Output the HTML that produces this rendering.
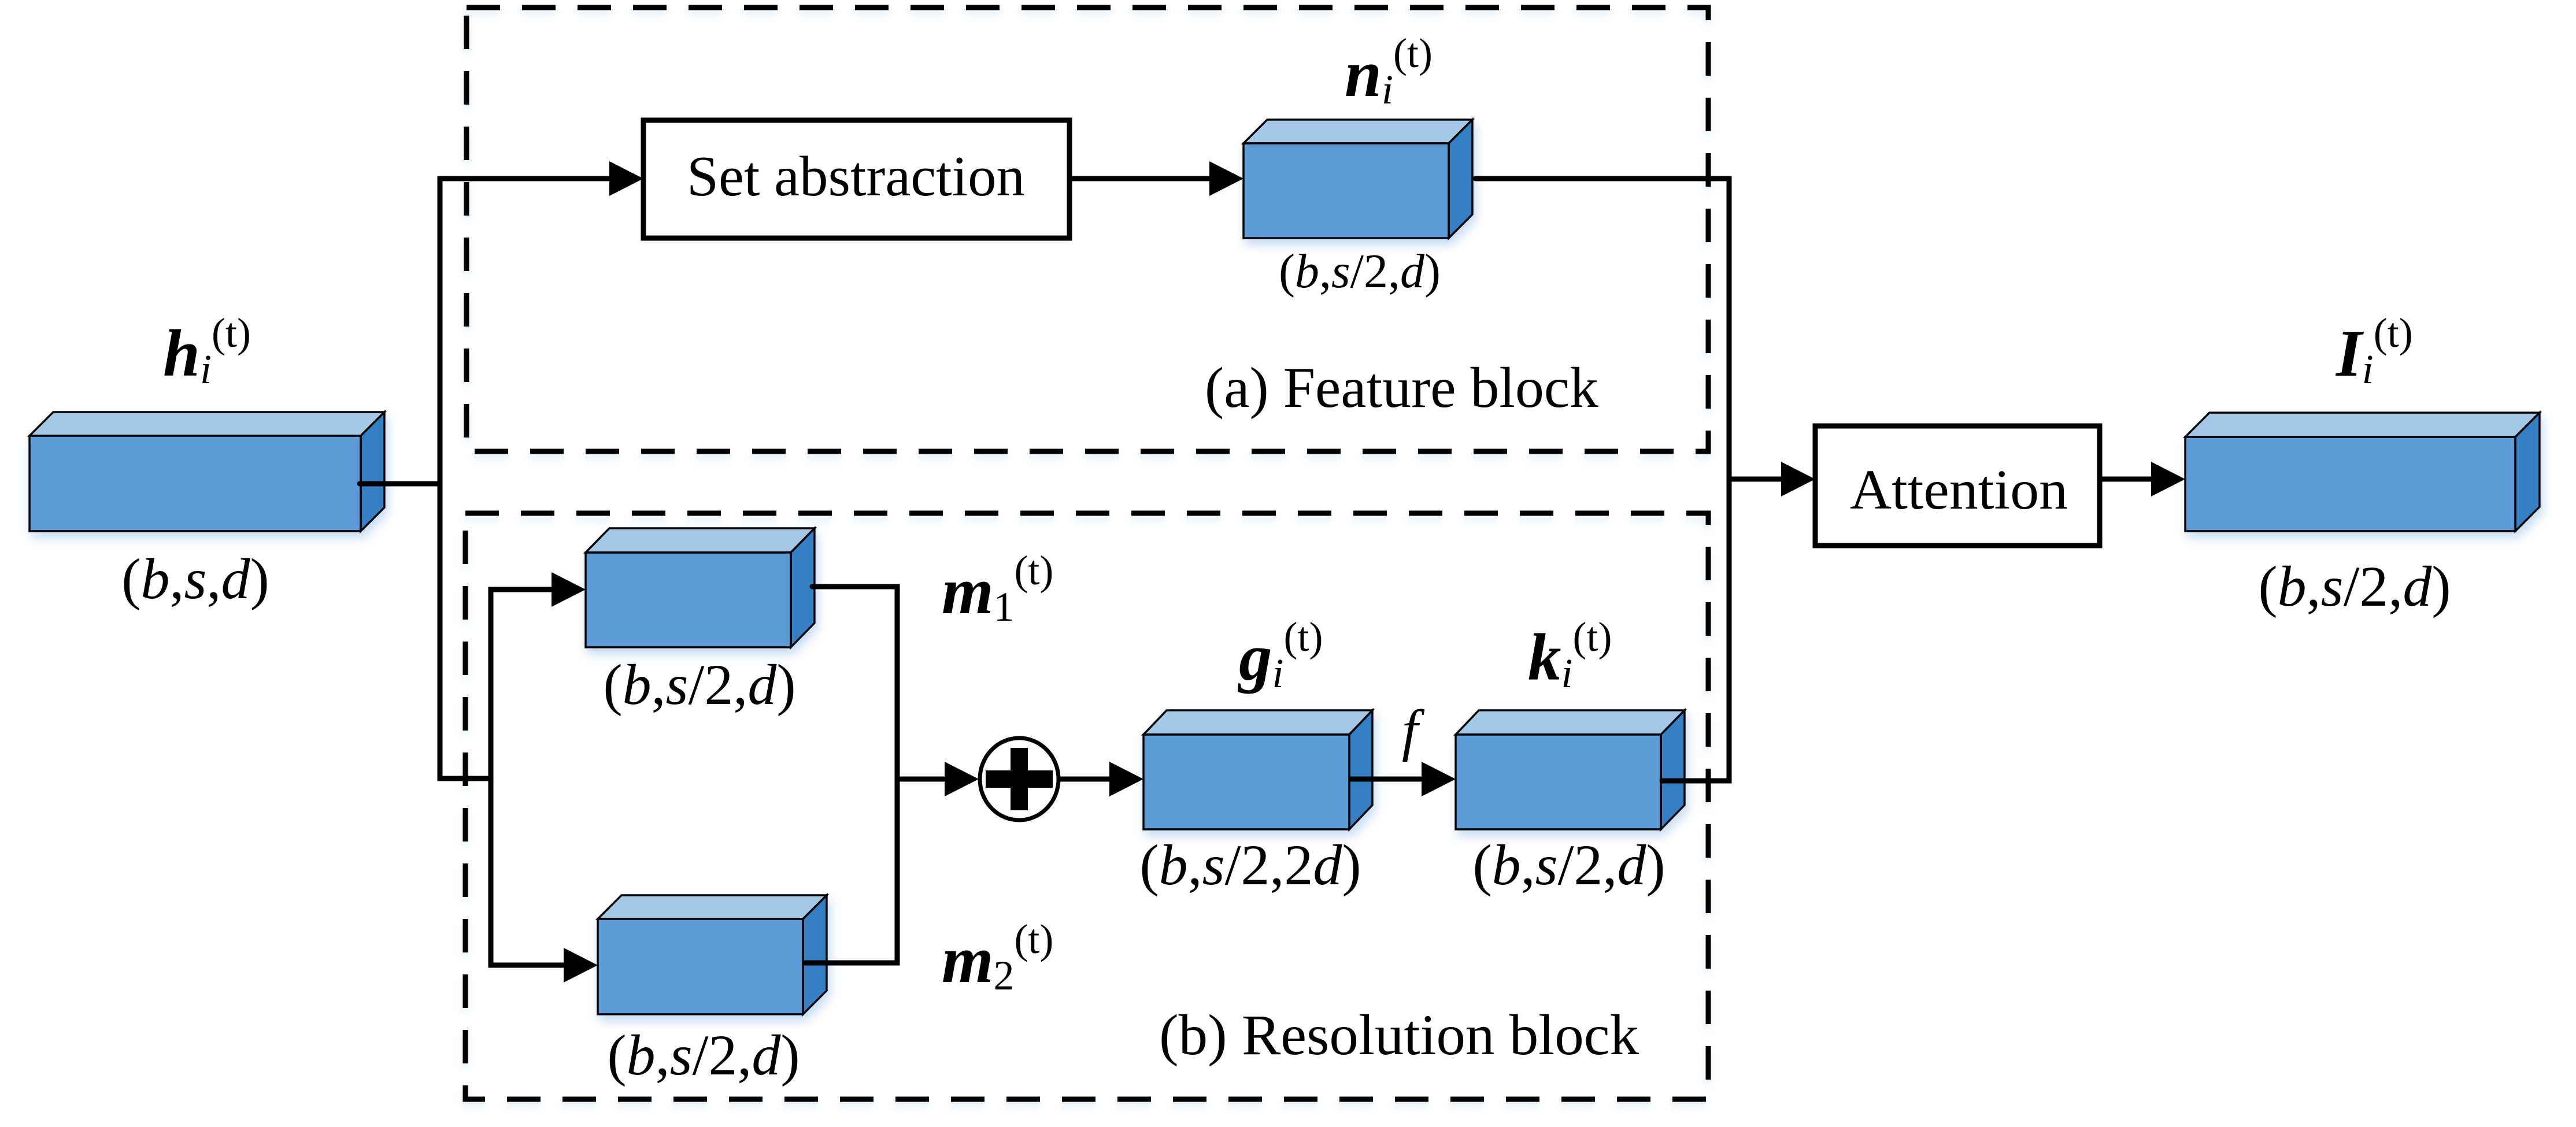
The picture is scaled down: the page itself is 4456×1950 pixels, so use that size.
<!DOCTYPE html>
<html><head><meta charset="utf-8"><style>
html,body{margin:0;padding:0;background:#fff;}
svg{display:block;}
svg text{font-family:"Liberation Serif","Tinos","Times New Roman","Nimbus Roman","FreeSerif","DejaVu Serif","Noto Serif CJK SC",serif;fill:#000;}
</style></head><body>
<svg width="4456" height="1950" viewBox="0 0 4456 1950" xmlns="http://www.w3.org/2000/svg">
<defs>
<filter id="gl" x="-10%" y="-10%" width="125%" height="130%">
<feDropShadow dx="4" dy="10" stdDeviation="9" flood-color="#9cc3ea" flood-opacity="0.6"/>
</filter>
<filter id="gl2" x="-5%" y="-10%" width="110%" height="130%">
<feDropShadow dx="0" dy="8" stdDeviation="7" flood-color="#bcd6f0" flood-opacity="0.5"/>
</filter>
</defs>

<g fill="none" stroke="#000" stroke-width="9" stroke-dasharray="58 38" filter="url(#gl2)">
<rect x="807" y="13" width="2148" height="768"/>
<rect x="805" y="888" width="2150" height="1014"/>
</g>

<g stroke="#000" stroke-width="3.5" stroke-linejoin="miter">
<g filter="url(#gl)">
<polygon points="51,754 92,713 665,713 624,754" fill="#a5c8e8"/>
<polygon points="624,754 665,713 665,878 624,919" fill="#3580c4"/>
<rect x="51" y="754" width="573" height="165" fill="#5b9bd5"/>
</g>
<g filter="url(#gl)">
<polygon points="2151,248 2192,207 2547,207 2506,248" fill="#a5c8e8"/>
<polygon points="2506,248 2547,207 2547,371 2506,412" fill="#3580c4"/>
<rect x="2151" y="248" width="355" height="164" fill="#5b9bd5"/>
</g>
<g filter="url(#gl)">
<polygon points="1013,956 1054,914 1409,914 1368,956" fill="#a5c8e8"/>
<polygon points="1368,956 1409,914 1409,1078 1368,1120" fill="#3580c4"/>
<rect x="1013" y="956" width="355" height="164" fill="#5b9bd5"/>
</g>
<g filter="url(#gl)">
<polygon points="1034,1590 1075,1549 1430,1549 1389,1590" fill="#a5c8e8"/>
<polygon points="1389,1590 1430,1549 1430,1714 1389,1755" fill="#3580c4"/>
<rect x="1034" y="1590" width="355" height="165" fill="#5b9bd5"/>
</g>
<g filter="url(#gl)">
<polygon points="1978,1271 2018,1229 2374,1229 2334,1271" fill="#a5c8e8"/>
<polygon points="2334,1271 2374,1229 2374,1393 2334,1435" fill="#3580c4"/>
<rect x="1978" y="1271" width="356" height="164" fill="#5b9bd5"/>
</g>
<g filter="url(#gl)">
<polygon points="2518,1271 2558,1229 2914,1229 2873,1271" fill="#a5c8e8"/>
<polygon points="2873,1271 2914,1229 2914,1393 2873,1435" fill="#3580c4"/>
<rect x="2518" y="1271" width="355" height="164" fill="#5b9bd5"/>
</g>
<g filter="url(#gl)">
<polygon points="3780,756 3822,714 4393,714 4351,756" fill="#a5c8e8"/>
<polygon points="4351,756 4393,714 4393,877 4351,919" fill="#3580c4"/>
<rect x="3780" y="756" width="571" height="163" fill="#5b9bd5"/>
</g>
</g>

<rect x="1113" y="208" width="737" height="204" fill="#fff" stroke="#000" stroke-width="9"/>
<rect x="3140" y="737" width="492" height="207" fill="#fff" stroke="#000" stroke-width="9"/>

<g fill="none" stroke="#000" stroke-width="9" stroke-linejoin="miter" stroke-linecap="round">
<polyline points="622,837 761,837"/>
<polyline points="1060,309 761,309 761,1347 849,1347"/>
<polyline points="960,1020 849,1020 849,1670 980,1670"/>
<polyline points="1405,1015 1552,1015 1552,1666 1393,1666"/>
<polyline points="1552,1348 1640,1348"/>
<polyline points="1833,1348 1925,1348"/>
<polyline points="2337,1348 2465,1348"/>
<polyline points="1850,309 2098,309"/>
<polyline points="2552,309 2991,309 2991,1351 2875,1351"/>
<polyline points="2991,829 3087,829"/>
<polyline points="3632,829 3727,829"/>
</g>
<g fill="#000">
<polygon points="1113,309 1054,279 1054,339"/>
<polygon points="2151,309 2092,279 2092,339"/>
<polygon points="1013,1020 954,990 954,1050"/>
<polygon points="1034,1670 975,1640 975,1700"/>
<polygon points="1693,1348 1634,1318 1634,1378"/>
<polygon points="1978,1348 1919,1318 1919,1378"/>
<polygon points="2518,1348 2459,1318 2459,1378"/>
<polygon points="3140,829 3081,799 3081,859"/>
<polygon points="3780,829 3721,799 3721,859"/>
</g>

<ellipse cx="1763" cy="1348" rx="68" ry="71" fill="#fff" stroke="#000" stroke-width="7"/>
<rect x="1705" y="1333" width="116" height="30" fill="#000"/>
<rect x="1748" y="1294" width="30" height="108" fill="#000"/>

<text x="1188" y="338" font-size="99" textLength="585" lengthAdjust="spacingAndGlyphs">Set abstraction</text>
<text x="3200" y="880" font-size="97" textLength="377" lengthAdjust="spacingAndGlyphs">Attention</text>
<text x="2084" y="704" font-size="100" textLength="681" lengthAdjust="spacingAndGlyphs">(a) Feature block</text>
<text x="2005" y="1824" font-size="100" textLength="830" lengthAdjust="spacingAndGlyphs">(b) Resolution block</text>

<g font-size="100" text-anchor="middle">
<text x="338" y="1035">(<tspan font-style="italic">b</tspan>,<tspan font-style="italic">s</tspan>,<tspan font-style="italic">d</tspan>)</text>
<text x="2352" y="497" font-size="84">(<tspan font-style="italic">b</tspan>,<tspan font-style="italic">s</tspan>/2,<tspan font-style="italic">d</tspan>)</text>
<text x="1210" y="1218">(<tspan font-style="italic">b</tspan>,<tspan font-style="italic">s</tspan>/2,<tspan font-style="italic">d</tspan>)</text>
<text x="1217" y="1859">(<tspan font-style="italic">b</tspan>,<tspan font-style="italic">s</tspan>/2,<tspan font-style="italic">d</tspan>)</text>
<text x="2163" y="1530">(<tspan font-style="italic">b</tspan>,<tspan font-style="italic">s</tspan>/2,2<tspan font-style="italic">d</tspan>)</text>
<text x="2714" y="1530">(<tspan font-style="italic">b</tspan>,<tspan font-style="italic">s</tspan>/2,<tspan font-style="italic">d</tspan>)</text>
<text x="4073" y="1048">(<tspan font-style="italic">b</tspan>,<tspan font-style="italic">s</tspan>/2,<tspan font-style="italic">d</tspan>)</text>
</g>
<text x="2425" y="1297" font-size="100" font-style="italic">f</text>

<g>
<text x="282" y="650" font-size="115"><tspan font-weight="bold" font-style="italic">h</tspan><tspan font-style="italic" font-size="72" dy="13">i</tspan><tspan font-size="72" dy="-63">(t)</tspan></text>
<text x="2326" y="166" font-size="115"><tspan font-weight="bold" font-style="italic">n</tspan><tspan font-style="italic" font-size="72" dy="13">i</tspan><tspan font-size="72" dy="-63">(t)</tspan></text>
<text x="1629" y="1061" font-size="115"><tspan font-weight="bold" font-style="italic">m</tspan><tspan font-size="72" dy="13">1</tspan><tspan font-size="72" dy="-63">(t)</tspan></text>
<text x="1629" y="1699" font-size="115"><tspan font-weight="bold" font-style="italic">m</tspan><tspan font-size="72" dy="13">2</tspan><tspan font-size="72" dy="-63">(t)</tspan></text>
<text x="2143" y="1176" font-size="115"><tspan font-weight="bold" font-style="italic">g</tspan><tspan font-style="italic" font-size="72" dy="13">i</tspan><tspan font-size="72" dy="-63">(t)</tspan></text>
<text x="2643" y="1176" font-size="115"><tspan font-weight="bold" font-style="italic">k</tspan><tspan font-style="italic" font-size="72" dy="13">i</tspan><tspan font-size="72" dy="-63">(t)</tspan></text>
<text x="4041" y="650" font-size="115"><tspan font-weight="bold" font-style="italic">I</tspan><tspan font-style="italic" font-size="72" dy="13">i</tspan><tspan font-size="72" dy="-63">(t)</tspan></text>
</g>
</svg>
</body></html>
